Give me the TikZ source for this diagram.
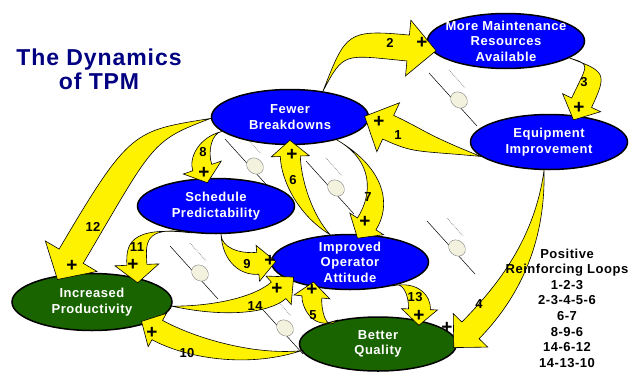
\documentclass[tikz,border=0pt]{standalone}
\usepackage{fontspec}
\setmainfont{Liberation Sans}[LetterSpace=4]
\usetikzlibrary{calc,shapes.geometric}
\definecolor{ovalblue}{RGB}{0,0,255}
\definecolor{ovalgreen}{RGB}{26,100,0}
\definecolor{titleblue}{RGB}{0,0,128}
\definecolor{egg}{RGB}{242,242,222}
% tail, control 1, control 2, tip, half width, half head width, head length
\newcommand{\fatarrow}[7]{%
\path ($(#4)!-5pt!(#3)$) coordinate (tp)
      ($(tp)!#7!(#3)$) coordinate (hm)
      ($(hm)!#5!90:(tp)$) coordinate (sl)
      ($(hm)!#5!-90:(tp)$) coordinate (sr)
      ($(hm)!#6!90:(tp)$) coordinate (bl)
      ($(hm)!#6!-90:(tp)$) coordinate (br);
\draw[fat] (#1) .. controls ($(#2)+.7*(sl)-.7*(hm)$) and ($(#3)+(sl)-(hm)$) .. (sl)
  -- (bl) -- (tp) -- (br) -- (sr)
  .. controls ($(#3)+(sr)-(hm)$) and ($(#2)+.7*(sr)-.7*(hm)$) .. (#1) -- cycle;}

\begin{document}
\begin{tikzpicture}[x=1pt,y=-1pt,
  oval/.style={draw,ellipse,line width=1.5pt,minimum width=157pt,minimum height=55pt,
    inner xsep=-16pt,inner ysep=-10pt,text=white,align=center,
    font=\fontsize{13}{15.5}\selectfont\bfseries},
  fat/.style={fill=yellow,draw=black,line width=.6pt},
  num/.style={font=\fontsize{13}{13}\selectfont\bfseries,inner sep=0pt},
  plus/.style={font=\fontsize{19}{19}\selectfont\bfseries,inner sep=0pt},
  bug/.pic={
    \draw[line width=.5pt] (-30,-27) -- (18,26);
    \draw[densely dotted,line width=.7pt,gray] (-10,-30) -- (6,-12);
    \draw[gray,fill=egg,rotate=-40] (0,0) ellipse [x radius=9pt,y radius=7.5pt];}]
\useasboundingbox (0,0) rectangle (644,372);

\node[text=titleblue,align=center,font=\fontsize{23}{24}\selectfont\bfseries] (title) at (99,69) {The Dynamics\\of TPM};

\pic at (255,166) {bug};
\pic at (336,188) {bug};
\pic at (459,100) {bug};
\pic at (200,273) {bug};
\pic at (285,328) {bug};
\pic at (457,248) {bug};

\node[oval,fill=ovalblue] (fb) at (290,117) {Fewer\\Breakdowns};
\node[oval,fill=ovalblue] (mmr) at (506,41) {More Maintenance\\Resources\\Available};
\node[oval,fill=ovalblue] (ei) at (549,142) {Equipment\\Improvement};
\node[oval,fill=ovalblue] (sp) at (216,206) {Schedule\\Predictability};
\node[oval,fill=ovalblue] (ioa) at (350,262) {Improved\\Operator\\Attitude};
\node[oval,fill=ovalgreen,minimum width=160pt,minimum height=57pt] (ip) at (92,302) {Increased\\Productivity};
\node[oval,fill=ovalgreen,minimum height=54pt] (bq) at (378,344) {Better\\Quality};

\fatarrow{ei.192}{420,142}{420,142}{fb.359}{13pt}{27pt}{26pt}
\fatarrow{fb.38}{345,42}{345,42}{mmr.187}{13pt}{28pt}{28pt}
\fatarrow{mmr.345}{598,68}{598,68}{ei.45}{11pt}{21pt}{19pt}
\fatarrow{ei.260}{540,250}{500,300}{bq.0}{12pt}{24pt}{24pt}
\fatarrow{bq.150}{318,333}{311,305}{ioa.214}{10pt}{18pt}{15pt}
\fatarrow{ioa.126}{305,215}{291,180}{fb.270}{10pt}{19pt}{16pt}
\fatarrow{fb.334}{380,165}{382,200}{ioa.70}{11pt}{20pt}{17pt}
\fatarrow{fb.192}{205,135}{198,155}{sp.110}{10pt}{20pt}{16pt}
\fatarrow{sp.280}{222,255}{240,265}{ioa.180}{11pt}{18pt}{18pt}
\fatarrow{bq.185}{250,362}{190,348}{ip.338}{11pt}{19pt}{18pt}
\fatarrow{sp.228}{135,225}{136,245}{ip.28}{10pt}{22pt}{18pt}
\fatarrow{fb.181}{142,136}{142,136}{ip.140}{14pt}{30pt}{27pt}
\fatarrow{ioa.330}{410,280}{420,295}{bq.30}{11pt}{18pt}{16pt}
\fatarrow{ip.357}{220,312}{262,305}{ioa.197}{11pt}{19pt}{20pt}

\node[num] (n1) at (398,135) {1};   \node[plus] (p1) at (379,122) {+};
\node[num] (n2) at (390,43) {2};    \node[plus] (p2) at (422,43) {+};
\node[num] (n3) at (584,82) {3};    \node[plus] (p3) at (579,108) {+};
\node[num] (n4) at (479,304) {4};   \node[plus] (p4) at (447,328) {+};
\node[num] (n5) at (313,315) {5};   \node[plus] (p5) at (312,290) {+};
\node[num] (n6) at (293,180) {6};   \node[plus] (p6) at (292,155) {+};
\node[num] (n7) at (368,197) {7};   \node[plus] (p7) at (365,222) {+};
\node[num] (n8) at (203,152) {8};   \node[plus] (p8) at (204,173) {+};
\node[num] (n9) at (247,264) {9};   \node[plus] (p9) at (270,261) {+};
\node[num] (n10) at (187,353) {10}; \node[plus] (p10) at (152,333) {+};
\node[num] (n11) at (137,247) {11}; \node[plus] (p11) at (133,265) {+};
\node[num] (n12) at (93,227) {12};  \node[plus] (p12) at (72,266) {+};
\node[num] (n13) at (415,297) {13}; \node[plus] (p13) at (419,316) {+};
\node[num] (n14) at (255,306) {14}; \node[plus] (p14) at (277,289) {+};

\node[align=center,font=\fontsize{13}{15.6}\selectfont\bfseries] (loops) at (567,308)
  {Positive\\Reinforcing Loops\\1-2-3\\2-3-4-5-6\\6-7\\8-9-6\\14-6-12\\14-13-10};
\end{tikzpicture}
\end{document}
